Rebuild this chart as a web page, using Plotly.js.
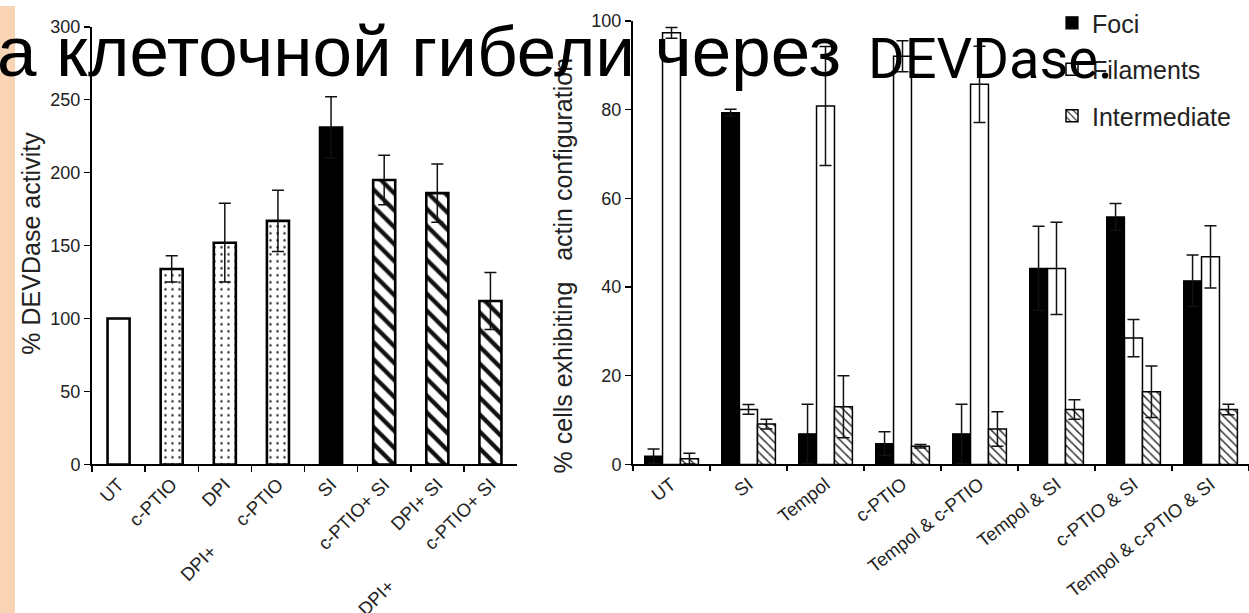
<!DOCTYPE html>
<html>
<head>
<meta charset="utf-8">
<script src="https://cdn.plot.ly/plotly-3.0.1.min.js"></script>
<style>
  html, body { margin: 0; padding: 0; background: #ffffff; }
  #chart { width: 1249px; height: 613px; }
</style>
</head>
<body>
<div id="chart"></div>
<script>
// ---------- Left panel: % DEVDase activity ----------
const NB = '\u00a0';
const devCategories = ['UT', 'c-PTIO', 'DPI', 'DPI+' + NB.repeat(7) + 'c-PTIO', 'SI', 'c-PTIO+ SI', 'DPI+ SI', 'DPI+' + NB.repeat(10) + 'c-PTIO+ SI'];
const devValues = [100, 134, 152, 167, 231, 195, 186, 112];
const devErrors = [0, 9, 27, 21, 21, 17, 20, 19.5];
const devTicks = [0, 50, 100, 150, 200, 250, 300];

// ---------- Right panel: % cells exhibiting actin configuration ----------
const actinCategories = ['UT', 'SI', 'Tempol', 'c-PTIO', 'Tempol & c-PTIO', 'Tempol & SI', 'c-PTIO & SI', 'Tempol & c-PTIO & SI'];
const fociValues = [1.9, 79.3, 6.9, 4.7, 6.9, 44.2, 55.8, 41.4];
const fociErrors = [1.6, 0.8, 6.7, 2.7, 6.7, 9.5, 3.0, 5.8];
const filamentValues = [97.3, 12.4, 80.8, 92.0, 85.7, 44.2, 28.5, 46.8];
const filamentErrors = [1.2, 1.1, 13.4, 3.5, 8.6, 10.4, 4.2, 7.0];
const intermediateValues = [1.3, 9.1, 13.0, 4.1, 8.0, 12.4, 16.4, 12.4];
const intermediateErrors = [1.2, 1.1, 7.0, 0.4, 3.9, 2.2, 5.8, 1.2];
const actinTicks = [0, 20, 40, 60, 80, 100];

const seriesNames = ['Foci', 'Filaments', 'Intermediate'];
const leftTitle = '% DEVDase activity';
const rightTitle = '% cells exhibiting' + NB.repeat(3) + 'actin configuration';
const headline1 = 'а клеточной гибели через';
const headline2 = 'DEVDase.';

// ---------- styling (not data) ----------
const W = 1249, H = 613;
const px = v => v / W;             // pixel -> paper x
const py = v => (H - v) / H;       // pixel -> paper y
const FONT = 'Arial, "Liberation Sans", sans-serif';

// fill style of each left-panel bar
const devStyleOf = ['open', 'dotted', 'dotted', 'dotted', 'solid', 'striped', 'striped', 'striped'];
const devStyles = {
  open:    { color: '#ffffff' },
  dotted:  { color: '#ffffff', pattern: { shape: '.', fgcolor: '#333', bgcolor: '#ffffff', size: 7, solidity: 0.1, fillmode: 'replace' } },
  solid:   { color: '#000000' },
  striped: { color: '#ffffff', pattern: { shape: '\\', fgcolor: '#111', bgcolor: '#ffffff', size: 12, solidity: 0.36, fillmode: 'replace' } }
};

const LEFT_W = 0.415;
const traces = [];
Object.keys(devStyles).forEach(function (style) {
  const idx = devStyleOf.map((s, i) => s === style ? i : -1).filter(i => i >= 0);
  const st = devStyles[style];
  const marker = { color: st.color, line: { color: '#000', width: 2.6 } };
  if (st.pattern) marker.pattern = st.pattern;
  traces.push({
    type: 'bar', x: idx.map(i => devCategories[i]), y: idx.map(i => devValues[i]),
    xaxis: 'x', yaxis: 'y', showlegend: false, width: LEFT_W, offset: -LEFT_W / 2,
    marker: marker,
    error_y: { type: 'data', array: idx.map(i => devErrors[i]), visible: true, color: '#111', thickness: 1.5, width: 6 }
  });
});

const RIGHT_W = 0.233;
const rightSeries = [
  { name: seriesNames[0], y: fociValues, err: fociErrors, off: -1.5 * RIGHT_W,
    marker: { color: '#000', line: { color: '#000', width: 1.2 } } },
  { name: seriesNames[1], y: filamentValues, err: filamentErrors, off: -0.5 * RIGHT_W,
    marker: { color: '#fff', line: { color: '#000', width: 1.5 } } },
  { name: seriesNames[2], y: intermediateValues, err: intermediateErrors, off: 0.5 * RIGHT_W,
    marker: { color: '#fff', line: { color: '#000', width: 1.5 },
      pattern: { shape: '\\', fgcolor: '#333', bgcolor: '#fff', size: 6, solidity: 0.25, fillmode: 'replace' } } }
];
rightSeries.forEach(function (s, k) {
  traces.push({
    type: 'bar', name: s.name, x: actinCategories, y: s.y, xaxis: 'x2', yaxis: 'y2',
    legendgroup: 'g' + k, width: RIGHT_W, offset: s.off, marker: s.marker,
    error_y: { type: 'data', array: s.err, visible: true, color: '#111', thickness: 1.5, width: 6 }
  });
});

const axisCommon = {
  showline: true, linecolor: '#000', showgrid: false, zeroline: false,
  ticks: 'outside', tickcolor: '#000', fixedrange: true
};

const layout = {
  width: W, height: H,
  margin: { l: 0, r: 0, t: 0, b: 0, pad: 0 },
  paper_bgcolor: '#ffffff', plot_bgcolor: 'rgba(0,0,0,0)',
  font: { family: FONT, color: '#222' },
  barmode: 'overlay',
  xaxis: Object.assign({}, axisCommon, {
    domain: [px(92), px(517)], type: 'category', range: [-0.5, 7.5],
    categoryorder: 'array', categoryarray: devCategories,
    tickangle: -45, tickson: 'boundaries', ticklen: 6, tickwidth: 1.5, linewidth: 2,
    tickfont: { size: 18.5, family: FONT, color: '#222' }, anchor: 'y'
  }),
  yaxis: Object.assign({}, axisCommon, {
    domain: [py(463), py(21)], range: [0, 300], tickvals: devTicks,
    ticklen: 6, tickwidth: 1.5, linewidth: 2,
    tickfont: { size: 18, family: FONT, color: '#222' }, anchor: 'x'
  }),
  xaxis2: Object.assign({}, axisCommon, {
    domain: [px(633), 1], type: 'category', range: [-0.5, 7.5],
    categoryorder: 'array', categoryarray: actinCategories,
    tickangle: -38, tickson: 'boundaries', ticklen: 5, tickwidth: 1.5, linewidth: 2,
    tickfont: { size: 18.5, family: FONT, color: '#222' }, anchor: 'y2'
  }),
  yaxis2: Object.assign({}, axisCommon, {
    domain: [py(463), py(15)], range: [0, 100], tickvals: actinTicks,
    ticklen: 6, tickwidth: 1.5, linewidth: 2,
    tickfont: { size: 18, family: FONT, color: '#222' }, anchor: 'x2'
  }),
  legend: {
    x: px(1052), y: py(-6), xanchor: 'left', yanchor: 'top',
    bgcolor: 'rgba(0,0,0,0)', font: { size: 25, family: FONT, color: '#222' },
    traceorder: 'grouped', tracegroupgap: 11, itemwidth: 30
  },
  shapes: [
    { type: 'rect', xref: 'paper', yref: 'paper', x0: 0, x1: px(15), y0: 0, y1: 1,
      fillcolor: '#f9d4b4', line: { width: 0 }, layer: 'below' }
  ],
  annotations: [
    { xref: 'paper', yref: 'paper', x: px(31), y: py(240), text: leftTitle, showarrow: false,
      textangle: -90, xanchor: 'center', yanchor: 'middle', font: { size: 25, family: FONT, color: '#222' } },
    { xref: 'paper', yref: 'paper', x: px(563), y: py(262), text: rightTitle, showarrow: false,
      textangle: -90, xanchor: 'center', yanchor: 'middle', font: { size: 25, family: FONT, color: '#222' } },
    { xref: 'paper', yref: 'paper', x: px(-5), y: py(46), text: headline1, showarrow: false,
      xanchor: 'left', yanchor: 'middle', font: { size: 71, family: '"Liberation Sans", Arial, sans-serif', color: '#000' } },
    { xref: 'paper', yref: 'paper', x: px(866), y: py(54), text: headline2, showarrow: false,
      xanchor: 'left', yanchor: 'middle', font: { size: 56, family: 'Roboto, sans-serif', color: '#000' } }
  ]
};

Plotly.newPlot('chart', traces, layout, { displayModeBar: false, staticPlot: true });
</script>
</body>
</html>
